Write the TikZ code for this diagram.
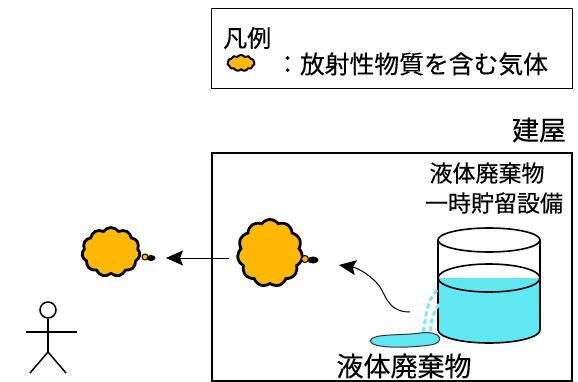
\documentclass[tikz,border=0pt]{standalone}
\usepackage{fontspec}
\newfontfamily\jp[FakeBold=0.3]{Noto Sans CJK JP}
\usetikzlibrary{shapes.symbols,shapes.geometric,arrows.meta,positioning}
\definecolor{gasorange}{RGB}{255,184,0}
\definecolor{watercyan}{RGB}{95,232,242}
\definecolor{spraycyan}{RGB}{120,235,245}

\begin{document}
\begin{tikzpicture}[x=1pt, y=-1pt,
  frame/.style={rectangle, draw=black, line width=1.2pt, inner sep=0pt},
  wall/.style={rectangle, draw=black, line width=2.4pt, inner sep=0pt},
  label/.style={font=\jp\fontsize{23}{26}\selectfont, inner sep=0pt},
  gas/.style={cloud, cloud puffs=11, cloud puff arc=110, cloud ignores aspect, draw=black, line width=2.8pt, fill=gasorange, inner sep=0pt},
  tailball/.style={circle, draw=black, line width=1pt, fill=gasorange, inner sep=0pt, minimum size=7pt},
  tailtip/.style={ellipse, fill=black, inner sep=0pt, minimum width=11pt, minimum height=7pt},
  arrow/.style={line width=1pt, -{Stealth[length=17pt, width=15pt, inset=3pt]}},
  tank/.style={draw=black, line width=1.6pt},
  person/.style={draw=black, line width=1.5pt}
]
  \useasboundingbox (0,0) rectangle (578,382);

  % legend
  \node[frame, minimum width=361pt, minimum height=80pt, anchor=north west] (legend) at (211,8) {};
  \node[label, font=\jp\fontsize{24}{26}\selectfont, anchor=west] (legtitle) at (223,38) {凡例};
  \node[gas, minimum width=27pt, minimum height=16pt, line width=2pt] (legcloud) at (241,63) {};
  \node[label, font=\jp\fontsize{24.8}{26}\selectfont, anchor=west] (legtext) at (275,64) {：放射性物質を含む気体};

  % building
  \node[wall, minimum width=360pt, minimum height=228pt, anchor=north west] (building) at (211,152) {};
  \node[label, font=\jp\fontsize{27}{30}\selectfont] (bldg) at (539,130) {建屋};

  % storage tank with liquid
  \fill[watercyan] (438,278) rectangle (540,330);
  \fill[watercyan] (489,330) ellipse[x radius=51, y radius=13];
  \draw[tank] (489,278) ellipse[x radius=51, y radius=14];
  \draw[tank] (489,240) ellipse[x radius=51, y radius=12];
  \draw[tank] (438,240) -- (438,330) arc[start angle=180, end angle=0, x radius=51, y radius=13] -- (540,240);
  \node[label] (tankname) at (487,173) {液体廃棄物};
  \node[label] (tankrole) at (494,203) {一時貯留設備};

  % leak and puddle
  \draw[spraycyan, line width=3pt, dash pattern=on 5pt off 3pt] (437,290) .. controls (428,302) .. (423,333);
  \draw[spraycyan, line width=3pt, dash pattern=on 5pt off 3pt] (439,304) .. controls (432,316) .. (430,334);
  \filldraw[fill=watercyan, draw=black!80, line width=1pt]
    (370,341) .. controls (372,333) and (400,336) .. (420,333)
    .. controls (442,330) and (446,343) .. (430,345)
    .. controls (410,348) and (372,349) .. (370,341) -- cycle;
  \node[label, font=\jp\fontsize{27}{30}\selectfont] (spilled) at (404,366) {液体廃棄物};

  % gas inside and outside the building
  \node[gas, minimum width=65pt, minimum height=67pt] (gasin) at (270,253) {};
  \node[tailtip] (gasintip) at (313,260) {};
  \node[tailball] (gasinball) at (305,259) {};
  \node[gas, minimum width=58pt, minimum height=49pt] (gasout) at (111,252) {};
  \node[tailtip, minimum width=9pt, minimum height=6pt] (gasouttip) at (151,258) {};
  \node[tailball, minimum size=6pt] (gasoutball) at (145,257) {};

  % release paths
  \coordinate (leak) at (410,312);
  \coordinate (rise) at (339,265);
  \draw[arrow] (leak) .. controls (385,312) and (386,291) .. (376,282)
    .. controls (368,274) and (358,268) .. (rise);
  \coordinate (drift) at (229,258);
  \coordinate (reach) at (166,258);
  \draw[arrow] (drift) -- (reach);

  % person outside
  \node[circle, person, minimum size=16pt, inner sep=0pt] (head) at (48,310) {};
  \coordinate (hip) at (48,352);
  \coordinate (lhand) at (26,332);
  \coordinate (rhand) at (77,332);
  \coordinate (lfoot) at (30,373);
  \coordinate (rfoot) at (66,373);
  \draw[person] (head.south) -- (hip);
  \draw[person] (lhand) -- (rhand);
  \draw[person] (lfoot) -- (hip) -- (rfoot);
\end{tikzpicture}
\end{document}
